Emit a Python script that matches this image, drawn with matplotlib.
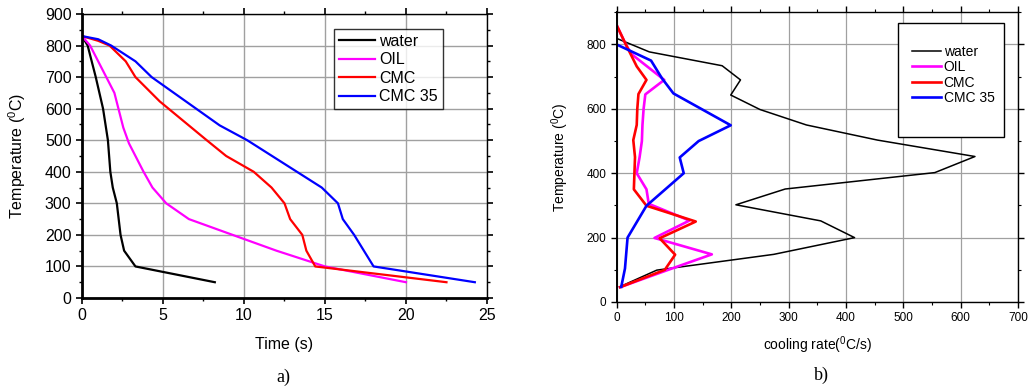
import matplotlib
matplotlib.use("Agg")
from matplotlib import pyplot as plt
from matplotlib.patches import Rectangle
from matplotlib.ticker import MultipleLocator

plt.rcParams["font.family"] = ["Liberation Sans", "DejaVu Sans"]
plt.rcParams["mathtext.fontset"] = "custom"
plt.rcParams["mathtext.rm"] = "Liberation Sans"
plt.rcParams["mathtext.it"] = "Liberation Sans"

series_names = ["water", "OIL", "CMC", "CMC 35"]
series_colors = ["black", "#ff00ff", "red", "blue"]

# a) temperature vs time
water_t = [0, 0.35, 0.85, 1.3, 1.6, 1.75, 1.9, 2.15, 2.38, 2.6, 3.3, 8.2]
water_T = [830, 800, 700, 600, 500, 400, 350, 300, 200, 150, 100, 50]
oil_t = [0, 0.5, 2.0, 2.25, 2.55, 2.9, 3.8, 4.35, 5.2, 6.6, 10.0, 12.0, 15.0, 20.0]
oil_T = [830, 800, 650, 600, 540, 490, 400, 350, 300, 250, 187, 150, 100, 50]
cmc_t = [0, 1.0, 1.7, 2.7, 3.3, 4.8, 7.7, 8.9, 10.6, 11.7, 12.5, 12.85, 13.6, 13.85, 14.4, 22.5]
cmc_T = [830, 815, 800, 750, 700, 623, 500, 450, 400, 350, 300, 250, 200, 150, 100, 50]
cmc35_t = [0, 1.0, 1.8, 3.3, 4.3, 8.5, 10.2, 14.8, 15.8, 16.1, 16.8, 18.0, 24.25]
cmc35_T = [830, 820, 800, 750, 700, 547, 500, 350, 300, 250, 200, 100, 50]

# b) cooling rate vs temperature
water_rate = [0, 57, 184, 216, 199, 250, 331, 455, 625, 555, 294, 208, 356, 415, 274, 70, 5]
water_rT = [819, 777, 734, 690, 643, 598, 550, 503, 452, 402, 351, 302, 252, 200, 148, 99, 47]
oil_rate = [0, 16, 26, 83, 50, 47, 45, 44, 40, 35, 52, 56, 127, 66, 166, 90, 6]
oil_rT = [860, 800, 770, 690, 645, 600, 550, 500, 450, 400, 350, 305, 253, 199, 148, 100, 46]
cmc_rate = [0, 16, 23, 35, 52, 38, 36, 35, 29, 32, 31, 30, 52, 138, 75, 102, 84, 6]
cmc_rT = [860, 800, 775, 732, 690, 646, 600, 550, 503, 450, 400, 350, 299, 250, 198, 147, 100, 46]
cmc35_rate = [0, 60, 79, 99, 199, 143, 110, 117, 52, 19, 14.5, 8]
cmc35_rT = [800, 750, 695, 648, 549, 500, 449, 400, 299, 200, 104, 47]

fig = plt.figure(figsize=(10.3, 3.92), dpi=100)

# ---------- panel a ----------
ax1 = fig.add_axes([0.0796, 0.2398, 0.3932, 0.7245])
for t, T, c, n in zip([water_t, oil_t, cmc_t, cmc35_t], [water_T, oil_T, cmc_T, cmc35_T],
                      series_colors, series_names):
    ax1.plot(t, T, color=c, lw=1.6, label=n)
ax1.set_xlim(0, 25)
ax1.set_ylim(0, 900)
ax1.xaxis.set_major_locator(MultipleLocator(5))
ax1.xaxis.set_minor_locator(MultipleLocator(2.5))
ax1.yaxis.set_major_locator(MultipleLocator(100))
ax1.yaxis.set_minor_locator(MultipleLocator(50))
ax1.grid(True, which="major", color="#a0a0a0", lw=1.0)
ax1.set_axisbelow(True)
ax1.tick_params(which="both", direction="out", top=True, right=True, labelsize=11.5, colors="black")
ax1.tick_params(which="major", length=4, width=1.2)
ax1.tick_params(which="minor", length=2.5, width=1.0)
for s in ["left", "bottom"]:
    ax1.spines[s].set_linewidth(2.0)
for s in ["top", "right"]:
    ax1.spines[s].set_linewidth(1.0)
ax1.set_xlabel("Time (s)", fontsize=11.5, labelpad=10)
ax1.set_ylabel(r"Temperature ($^0$C)", fontsize=11.5, labelpad=12)
leg1 = ax1.legend(loc="upper right", bbox_to_anchor=(0.891, 0.947), fontsize=11.5, frameon=True,
                  fancybox=False, edgecolor="black", handlelength=2.3, handletextpad=0.25,
                  labelspacing=0.22, borderpad=0.3, borderaxespad=0)
leg1.get_frame().set_linewidth(1.0)
fig.text(0.275, 0.038, "a)", fontsize=13, family=["Liberation Serif"], ha="center", va="center")

# ---------- panel b ----------
ax2 = fig.add_axes([0.5987, 0.2296, 0.3896, 0.739])
rates = [water_rate, oil_rate, cmc_rate, cmc35_rate]
temps = [water_rT, oil_rT, cmc_rT, cmc35_rT]
widths = [1.1, 1.9, 1.9, 1.9]
for r, T, c, n, w in zip(rates, temps, series_colors, series_names, widths):
    ax2.plot(r, T, color=c, lw=w, label=n)
ax2.set_xlim(0, 700)
ax2.set_ylim(0, 900)
ax2.xaxis.set_major_locator(MultipleLocator(100))
ax2.xaxis.set_minor_locator(MultipleLocator(50))
ax2.yaxis.set_major_locator(MultipleLocator(200))
ax2.yaxis.set_minor_locator(MultipleLocator(100))
ax2.grid(True, which="major", color="#a0a0a0", lw=0.9)
ax2.set_axisbelow(True)
ax2.tick_params(which="both", direction="out", top=True, right=True, labelsize=8.5, colors="black")
ax2.tick_params(which="major", length=4, width=1.0)
ax2.tick_params(which="minor", length=2.5, width=0.8)
for s in ax2.spines.values():
    s.set_linewidth(1.0)
ax2.spines["left"].set_linewidth(1.4)
ax2.set_xlabel(r"cooling rate($^0$C/s)", fontsize=10, labelpad=7)
ax2.set_ylabel(r"Temperature ($^0$C)", fontsize=10, labelpad=11)
# legend box is taller than its entries, so the frame is drawn by hand
ax2.add_patch(Rectangle((0.701, 0.570), 0.264, 0.393, transform=ax2.transAxes, facecolor="white",
                        edgecolor="black", lw=1.0, zorder=4))
leg2 = ax2.legend(loc="upper left", bbox_to_anchor=(0.735, 0.888), fontsize=10, frameon=False,
                  handlelength=2.1, handletextpad=0.2, labelspacing=0.1, borderpad=0,
                  borderaxespad=0)
leg2.set_zorder(5)
fig.text(0.798, 0.043, "b)", fontsize=13, family=["Liberation Serif"], ha="center", va="center")

fig.savefig("out.png", dpi=100)
